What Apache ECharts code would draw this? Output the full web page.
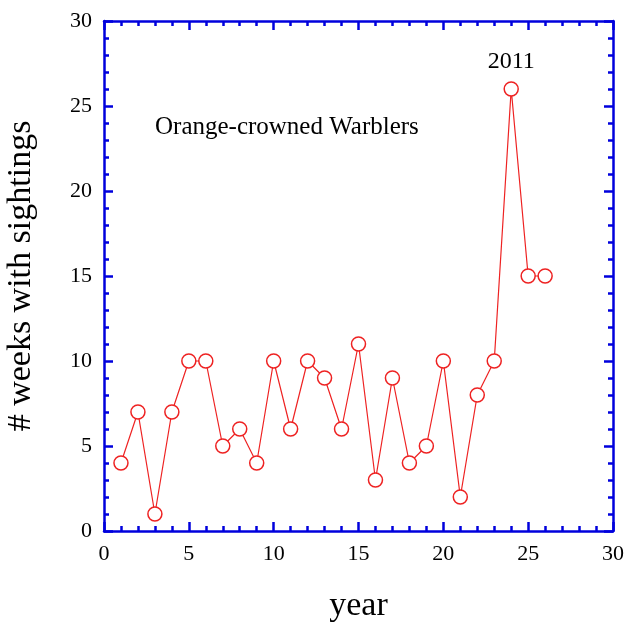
<!DOCTYPE html>
<html>
<head>
<meta charset="utf-8">
<script src="https://cdn.jsdelivr.net/npm/echarts@6/dist/echarts.min.js"></script>
<style>
  html, body { margin: 0; padding: 0; background: #fff; }
  #chart { width: 630px; height: 625px; }
</style>
</head>
<body>
<div id="chart"></div>
<script>
const years = [1, 2, 3, 4, 5, 6, 7, 8, 9, 10, 11, 12, 13, 14, 15, 16, 17, 18, 19, 20, 21, 22, 23, 24, 25, 26];
const weeks = [4, 7, 1, 7, 10, 10, 5, 6, 4, 10, 6, 10, 9, 6, 11, 3, 9, 4, 5, 10, 2, 8, 10, 26, 15, 15];
const peakLabel = "2011";
const peakIndex = 23;
const speciesName = "Orange-crowned Warblers";

const font = "Liberation Serif";
const frameColor = "#0000dd";
const lineColor = "#ee2222";

const chart = echarts.init(document.getElementById("chart"));

// same look for all four sides of the frame
const frameAxis = (extra) => Object.assign({
  type: "value",
  min: 0,
  max: 30,
  interval: 5,
  axisLine: { show: true, onZero: false, lineStyle: { color: frameColor, width: 2.5 } },
  axisTick: { show: true, inside: true, length: 9, lineStyle: { color: frameColor, width: 2.5 } },
  minorTick: { show: true, splitNumber: 5, length: 5, lineStyle: { color: frameColor, width: 2.5 } },
  splitLine: { show: false },
  axisLabel: { show: false },
}, extra);

const data = years.map((y, i) => {
  const item = { value: [y, weeks[i]] };
  if (i === peakIndex) {
    item.label = {
      show: true,
      position: "top",
      distance: 8,
      formatter: peakLabel,
      fontFamily: font,
      fontSize: 24,
      color: "#000",
    };
  }
  return item;
});

const option = {
  backgroundColor: "#fff",
  animation: false,
  grid: { left: 104, right: 17, top: 21, bottom: 94, containLabel: false, outerBoundsMode: "none" },
  xAxis: [
    frameAxis({
      position: "bottom",
      name: "year",
      nameLocation: "middle",
      nameGap: 58,
      nameTextStyle: { fontFamily: font, fontSize: 34, color: "#000" },
      axisLabel: { show: true, margin: 12, fontFamily: font, fontSize: 22, color: "#000" },
    }),
    frameAxis({ position: "top" }),
  ],
  yAxis: [
    frameAxis({
      position: "left",
      name: "# weeks with sightings",
      nameLocation: "middle",
      nameGap: 66,
      nameTextStyle: { fontFamily: font, fontSize: 34, color: "#000" },
      axisLabel: { show: true, margin: 12, fontFamily: font, fontSize: 22, color: "#000" },
    }),
    frameAxis({ position: "right" }),
  ],
  graphic: [
    {
      type: "text",
      left: 155,
      top: 115,
      style: { text: speciesName, fontFamily: font, fontSize: 25, fill: "#000" },
    },
  ],
  series: [
    {
      type: "line",
      xAxisIndex: 0,
      yAxisIndex: 0,
      data: data,
      symbol: "circle",
      symbolSize: 14,
      showAllSymbol: true,
      lineStyle: { color: lineColor, width: 1.2 },
      itemStyle: { color: "#fff", borderColor: lineColor, borderWidth: 1.5 },
    },
  ],
};

chart.setOption(option);
</script>
</body>
</html>
